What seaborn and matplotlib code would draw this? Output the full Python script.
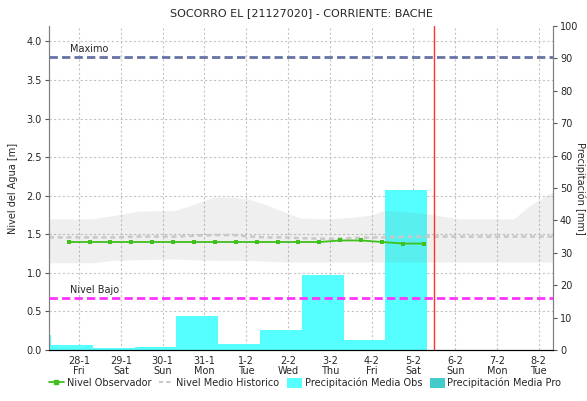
import numpy as np
import matplotlib
matplotlib.use("Agg")
import matplotlib.pyplot as plt
from matplotlib.lines import Line2D
from matplotlib.patches import Patch
from matplotlib.ticker import MultipleLocator
import seaborn as sns

# ── data (x in days from 28-1 00:00) ─────────────────────────────────────────
day_labels = ["28-1", "29-1", "30-1", "31-1", "1-2", "2-2",
              "3-2", "4-2", "5-2", "6-2", "7-2", "8-2"]
weekdays   = ["Fri", "Sat", "Sun", "Mon", "Tue", "Wed",
              "Thu", "Fri", "Sat", "Sun", "Mon", "Tue"]

# daily observed precipitation, each bar from 08:00 to 08:00 next day
precip_start = [-1.67, -0.67, 0.33, 1.33, 2.33, 3.33, 4.33, 5.33, 6.33, 7.33]
precip_obs   = [4.6, 1.5, 0.5, 0.9, 10.4, 2.0, 6.1, 23.0, 3.0, 49.5]

# observed level every 12 h
level_days = [-0.25, 0.25, 0.75, 1.25, 1.75, 2.25, 2.75, 3.25, 3.75,
              4.25, 4.75, 5.25, 5.75, 6.25, 6.75, 7.25, 7.75, 8.25]
level_obs  = [1.40, 1.40, 1.40, 1.40, 1.40, 1.40, 1.40, 1.40, 1.40,
              1.40, 1.40, 1.40, 1.40, 1.42, 1.42, 1.40, 1.38, 1.38]

# historical band + mean
hist_days   = [-0.72, 0.3, 0.8, 1.4, 2.3, 2.7, 3.2, 3.7, 4.1, 4.5, 4.9,
               5.3, 6.0, 6.5, 7.0, 7.3, 7.9, 8.4, 9.1, 10.4, 10.8, 11.34]
hist_upper  = [1.70, 1.70, 1.74, 1.80, 1.81, 1.88, 1.98, 1.98, 1.95, 1.88, 1.79,
               1.71, 1.70, 1.72, 1.75, 1.81, 1.79, 1.76, 1.70, 1.70, 1.88, 2.05]
hist_lower  = [1.13, 1.13, 1.16, 1.17, 1.18, 1.17, 1.16, 1.16, 1.16, 1.15, 1.14,
               1.14, 1.14, 1.14, 1.14, 1.14, 1.14, 1.14, 1.14, 1.14, 1.14, 1.14]
hist_median = [1.46, 1.46, 1.46, 1.47, 1.47, 1.48, 1.49, 1.49, 1.47, 1.46, 1.46,
               1.45, 1.44, 1.45, 1.46, 1.46, 1.47, 1.47, 1.47, 1.47, 1.47, 1.47]

nivel_maximo = 3.80
nivel_bajo   = 0.67
now_day      = 8.49

sns.set_style("white")
plt.rcParams["font.family"] = ["DejaVu Sans"]

fig = plt.figure(figsize=(5.87, 4.01), dpi=100)
ax = fig.add_axes([49/587, 51/401, 504/587, 324/401])
ax2 = ax.twinx()
# levels on top of precipitation bars
ax.set_zorder(ax2.get_zorder() + 1)
ax.patch.set_visible(False)

YMAX_L, YMAX_R = 4.2, 100
XLIM = (-0.72, 11.34)

# ── precipitation (right axis, behind) ───────────────────────────────────────
ax2.bar(precip_start, precip_obs, width=1.0, align="edge",
        color="#55FFFF", edgecolor="none", zorder=2)
ax2.set_ylim(0, YMAX_R)
ax2.set_yticks(np.arange(0, 101, 10))
# grid of left axis drawn behind bars
for yv in np.arange(0.5, 4.01, 0.5):
    ax2.axhline(yv * YMAX_R / YMAX_L, color="#c4c4c4", lw=0.8,
                linestyle=(0, (2, 2)), zorder=1)
for xv in range(len(day_labels)):
    ax2.axvline(xv, color="#c4c4c4", lw=0.8, linestyle=(0, (2, 2)), zorder=1)

# ── levels (left axis, front) ────────────────────────────────────────────────
ax.fill_between(hist_days, hist_lower, hist_upper, color="#808080",
                alpha=0.12, linewidth=0, zorder=1)
sns.lineplot(x=hist_days, y=hist_median, ax=ax, color="#c8c8c8", lw=1.8,
             linestyle=(0, (2, 1.5)), zorder=2)
sns.lineplot(x=level_days, y=level_obs, ax=ax, color="#3fc01a", lw=1.3,
             marker="s", markersize=3.5, markeredgewidth=0, zorder=4)

ax.axhline(nivel_maximo, color="#6673a3", lw=2, linestyle=(0, (3, 1.5)), zorder=3)
ax.axhline(nivel_bajo, color="#ff33ff", lw=2, linestyle=(0, (3, 1.5)), zorder=3)
ax.text(-0.22, nivel_maximo + 0.04, "Maximo", fontsize=7, va="bottom")
ax.text(-0.22, nivel_bajo + 0.04, "Nivel Bajo", fontsize=7, va="bottom")
ax.axvline(now_day, color="#ff3030", lw=1, zorder=5)

ax.set_xlim(*XLIM)
ax.set_ylim(0, YMAX_L)
ax.set_yticks(np.arange(0, 4.01, 0.5))
ax.set_yticklabels([f"{v:.1f}" for v in np.arange(0, 4.01, 0.5)])
ax.set_xticks(range(len(day_labels)))
ax.set_xticklabels([f"{d}\n{w}" for d, w in zip(day_labels, weekdays)],
                   linespacing=1.1)
ax.xaxis.set_minor_locator(MultipleLocator(1/24))

ax.set_title("SOCORRO EL [21127020] - CORRIENTE: BACHE", fontsize=8, pad=7)
ax.set_ylabel("Nivel del Agua [m]", fontsize=7)
ax2.set_ylabel("Precipitación [mm]", fontsize=7, rotation=270,
               va="center", ha="center")
ax.yaxis.set_label_coords(-0.062, 0.5)
ax2.yaxis.set_label_coords(1.054, 0.5)

for a in (ax, ax2):
    a.tick_params(axis="both", labelsize=7, length=3, width=0.8,
                  color="#555555", pad=2)
    a.spines["top"].set_visible(False)
    for s in ("left", "right"):
        a.spines[s].set_color("#808080")
    a.spines["bottom"].set_color("black")
ax.tick_params(axis="x", which="major", length=0, pad=4)
ax.tick_params(axis="x", which="minor", length=2.5, width=0.8, color="black")
ax.tick_params(axis="y", left=True)
ax2.tick_params(axis="y", right=True)

handles = [
    Line2D([], [], color="#3fc01a", lw=1.3, marker="s", markersize=3),
    Line2D([], [], color="#c8c8c8", lw=1.5, linestyle=(0, (2, 1.5))),
    Patch(facecolor="#55FFFF", edgecolor="none"),
    Patch(facecolor="#44CCCC", edgecolor="none"),
]
labels = ["Nivel Observador", "Nivel Medio Historico",
          "Precipitación Media Obs", "Precipitación Media Pro"]
fig.legend(handles, labels, loc="center", bbox_to_anchor=(0.52, 0.045),
           ncol=4, frameon=False, fontsize=7, handlelength=1.5,
           handleheight=1.2, handletextpad=0.3, columnspacing=0.8)

fig.savefig("out.png", dpi=100, facecolor="white")
